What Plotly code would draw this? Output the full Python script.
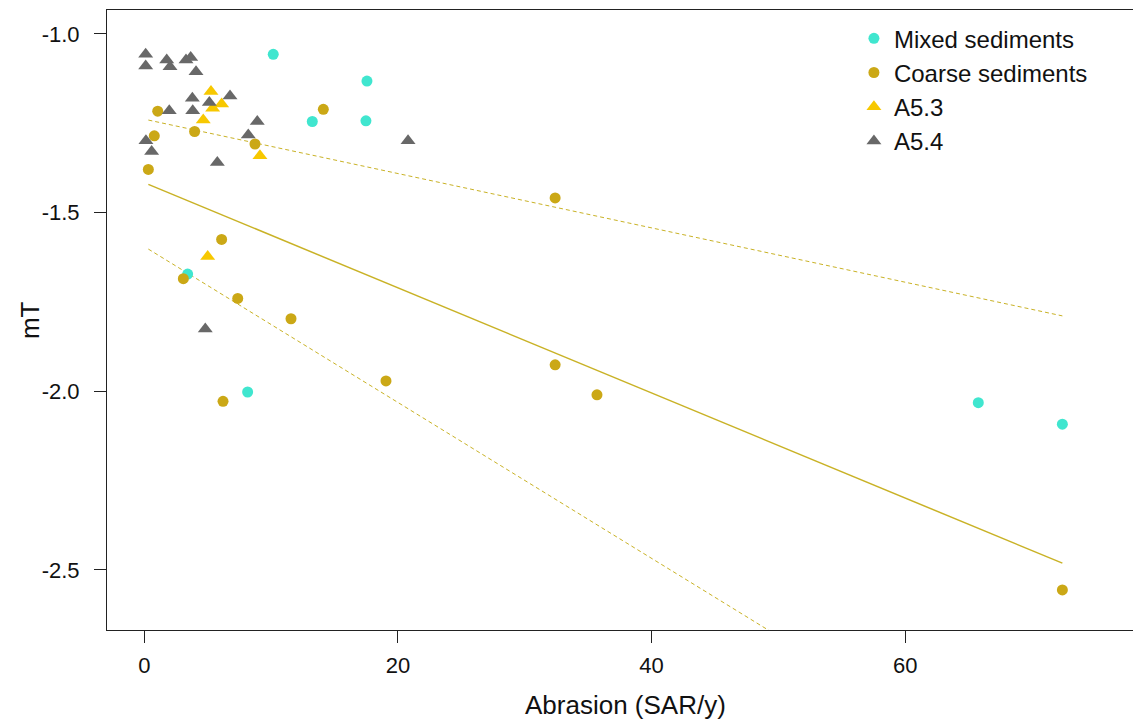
import plotly.graph_objects as go

# ---- data ----
mixed_x = [10.17, 17.56, 13.25, 17.48, 3.42, 8.15, 65.77, 72.40]
mixed_y = [-1.057, -1.132, -1.245, -1.243, -1.672, -2.002, -2.032, -2.092]

coarse_x = [0.32, 0.79, 1.06, 3.97, 8.73, 14.12, 6.10, 3.08, 7.37, 11.57, 6.21, 19.06, 32.4, 32.4, 35.7, 72.40]
coarse_y = [-1.379, -1.285, -1.216, -1.273, -1.308, -1.211, -1.575, -1.685, -1.740, -1.797, -2.028, -1.971,
            -1.459, -1.926, -2.010, -2.556]

a53_x = [5.26, 5.39, 6.10, 4.65, 9.12, 5.00]
a53_y = [-1.161, -1.208, -1.196, -1.241, -1.341, -1.623]

a54_x = [0.11, 0.11, 1.77, 2.03, 3.29, 3.66, 4.08, 3.79, 6.76, 5.13, 1.97, 3.82, 8.91, 8.20, 0.13, 0.58,
         5.76, 20.8, 4.81]
a54_y = [-1.057, -1.090, -1.073, -1.092, -1.073, -1.066, -1.106, -1.180, -1.174, -1.192, -1.215, -1.215,
         -1.245, -1.283, -1.299, -1.329, -1.360, -1.299, -1.826]

fit_x = [0.32, 72.40]
fit_y = [-1.421, -2.481]
upper_y = [-1.241, -1.789]
lower_y = [-1.602, -3.174]

x_ticks = [0, 20, 40, 60]
y_ticks = [-1.0, -1.5, -2.0, -2.5]
y_ticklabels = ["-1.0", "-1.5", "-2.0", "-2.5"]

# ---- styles ----
C_MIXED = "#40E6CF"
C_COARSE = "#CBA816"
C_A53 = "#F7C800"
C_A54 = "#686868"
C_LINE = "#C9B226"
FONT = "Liberation Sans, Arial, sans-serif"

fig = go.Figure()

fig.add_trace(go.Scatter(x=fit_x, y=upper_y, mode="lines", showlegend=False,
                         line=dict(color=C_LINE, width=1, dash="4px,3px"), hoverinfo="skip"))
fig.add_trace(go.Scatter(x=fit_x, y=lower_y, mode="lines", showlegend=False,
                         line=dict(color=C_LINE, width=1, dash="4px,3px"), hoverinfo="skip"))
fig.add_trace(go.Scatter(x=fit_x, y=fit_y, mode="lines", showlegend=False,
                         line=dict(color=C_LINE, width=1.5), hoverinfo="skip"))

fig.add_trace(go.Scatter(x=mixed_x, y=mixed_y, mode="markers", name="Mixed sediments", legendgroup="g1",
                         marker=dict(symbol="circle", size=11, color=C_MIXED, line=dict(width=0))))
fig.add_trace(go.Scatter(x=coarse_x, y=coarse_y, mode="markers", name="Coarse sediments", legendgroup="g2",
                         marker=dict(symbol="circle", size=11, color=C_COARSE, line=dict(width=0))))
fig.add_trace(go.Scatter(x=a53_x, y=a53_y, mode="markers", name="A5.3", legendgroup="g3",
                         marker=dict(symbol="triangle-up", size=13, color=C_A53, line=dict(width=0))))
fig.add_trace(go.Scatter(x=a54_x, y=a54_y, mode="markers", name="A5.4", legendgroup="g4",
                         marker=dict(symbol="triangle-up", size=13, color=C_A54, line=dict(width=0))))

fig.update_layout(
    width=1133, height=726,
    margin=dict(l=107, r=0, t=10, b=96),
    paper_bgcolor="white", plot_bgcolor="white",
    font=dict(family=FONT, color="#111111"),
    showlegend=True,
    legend=dict(x=0.728, y=0.99, xanchor="left", yanchor="top", bgcolor="rgba(0,0,0,0)",
                font=dict(size=24, family=FONT, color="#111111"), tracegroupgap=0,
                itemsizing="trace"),
    xaxis=dict(range=[-2.94, 77.97], tickvals=x_ticks, ticktext=[str(v) for v in x_ticks],
               showgrid=False, zeroline=False, showline=True, linecolor="#222222", linewidth=1,
               mirror=True, ticks="outside", ticklen=12, tickcolor="#222222",
               tickfont=dict(size=22, family=FONT, color="#111111"), ticklabelstandoff=4),
    yaxis=dict(range=[-2.668, -0.933], tickvals=y_ticks, ticktext=y_ticklabels,
               showgrid=False, zeroline=False, showline=True, linecolor="#222222", linewidth=1,
               ticks="outside", ticklen=12, tickcolor="#222222",
               tickfont=dict(size=22, family=FONT, color="#111111"), ticklabelstandoff=10),
    annotations=[
        dict(text="Abrasion (SAR/y)", xref="paper", yref="paper", x=0.505, y=-0.121,
             xanchor="center", yanchor="middle", showarrow=False,
             font=dict(size=26, family=FONT, color="#111111")),
        dict(text="mT", xref="paper", yref="paper", x=-0.075, y=0.5, textangle=-90,
             xanchor="center", yanchor="middle", showarrow=False,
             font=dict(size=26, family=FONT, color="#111111")),
    ],
)

fig.write_html("out.html")
